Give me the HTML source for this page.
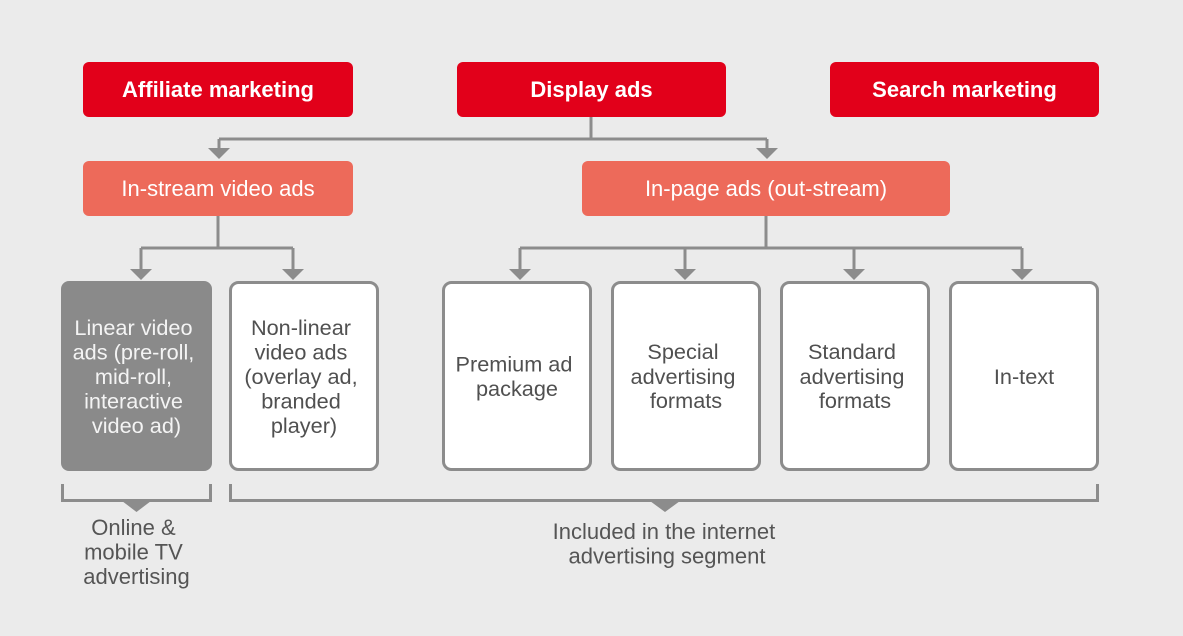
<!DOCTYPE html>
<html>
<head>
<meta charset="utf-8">
<style>
html,body{margin:0;padding:0;background:#ebebeb;}
svg{display:block;}
text{font-family:"Liberation Sans",Arial,sans-serif;}
</style>
</head>
<body>
<svg width="1183" height="636" viewBox="0 0 1183 636" xmlns="http://www.w3.org/2000/svg">
<rect x="0" y="0" width="1183" height="636" fill="#ebebeb"/>

<!-- connectors -->
<g stroke="#8c8c8c" stroke-width="3" fill="none">
  <path d="M591 117 V139 M219 139 H767 M219 139 V150 M767 139 V150"/>
  <path d="M218 216 V248 M141 248 H293 M141 248 V270 M293 248 V270"/>
  <path d="M766 216 V248 M520 248 H1022 M520 248 V270 M685 248 V270 M854 248 V270 M1022 248 V270"/>
  <path d="M62.5 484 V500.5 H210.5 V484"/>
  <path d="M230.5 484 V500.5 H1097.5 V484"/>
</g>
<g fill="#8c8c8c">
  <polygon points="208,148 230,148 219,159"/>
  <polygon points="756,148 778,148 767,159"/>
  <polygon points="130,269 152,269 141,280"/>
  <polygon points="282,269 304,269 293,280"/>
  <polygon points="509,269 531,269 520,280"/>
  <polygon points="674,269 696,269 685,280"/>
  <polygon points="843,269 865,269 854,280"/>
  <polygon points="1011,269 1033,269 1022,280"/>
  <polygon points="122,501 151,501 136.5,512"/>
  <polygon points="650,501 680,501 665,512"/>
</g>

<!-- top red boxes -->
<rect x="83" y="62" width="270" height="55" rx="6" fill="#e2001a"/>
<rect x="457" y="62" width="269" height="55" rx="6" fill="#e2001a"/>
<rect x="830" y="62" width="269" height="55" rx="6" fill="#e2001a"/>
<g fill="#ffffff" font-weight="bold" font-size="22" text-anchor="middle">
  <text x="218" y="97">Affiliate marketing</text>
  <text x="591.5" y="97">Display ads</text>
  <text x="964.5" y="97">Search marketing</text>
</g>

<!-- salmon boxes -->
<rect x="83" y="161" width="270" height="55" rx="6" fill="#ed6a5a"/>
<rect x="582" y="161" width="368" height="55" rx="6" fill="#ed6a5a"/>
<g fill="#ffffff" font-size="22" text-anchor="middle">
  <text x="218" y="196">In-stream video ads</text>
  <text x="766" y="196">In-page ads (out-stream)</text>
</g>

<!-- leaf boxes -->
<rect x="61" y="281" width="151" height="190" rx="8" fill="#8a8a8a"/>
<g fill="#ffffff" stroke="#8c8c8c" stroke-width="3">
  <rect x="230.5" y="282.5" width="147" height="187" rx="8"/>
  <rect x="443.5" y="282.5" width="147" height="187" rx="8"/>
  <rect x="612.5" y="282.5" width="147" height="187" rx="8"/>
  <rect x="781.5" y="282.5" width="147" height="187" rx="8"/>
  <rect x="950.5" y="282.5" width="147" height="187" rx="8"/>
</g>

<g font-size="21.7" text-anchor="middle">
  <text fill="#f4f4f4">
    <tspan x="136.5" y="335">Linear video</tspan>
    <tspan x="136.5" y="359.5">ads (pre-roll,</tspan>
    <tspan x="136.5" y="384">mid-roll,</tspan>
    <tspan x="136.5" y="408.5">interactive</tspan>
    <tspan x="136.5" y="433">video ad)</tspan>
  </text>
  <text fill="#505050">
    <tspan x="304" y="335">Non-linear</tspan>
    <tspan x="304" y="359.5">video ads</tspan>
    <tspan x="304" y="384">(overlay ad,</tspan>
    <tspan x="304" y="408.5">branded</tspan>
    <tspan x="304" y="433">player)</tspan>
  </text>
  <text fill="#505050">
    <tspan x="517" y="371.5">Premium ad</tspan>
    <tspan x="517" y="396">package</tspan>
  </text>
  <text fill="#505050">
    <tspan x="686" y="359">Special</tspan>
    <tspan x="686" y="384">advertising</tspan>
    <tspan x="686" y="408">formats</tspan>
  </text>
  <text fill="#505050">
    <tspan x="855" y="359">Standard</tspan>
    <tspan x="855" y="384">advertising</tspan>
    <tspan x="855" y="408">formats</tspan>
  </text>
  <text fill="#505050">
    <tspan x="1024" y="384">In-text</tspan>
  </text>
</g>
<g font-size="22" text-anchor="middle">
  <text fill="#555555">
    <tspan x="136.5" y="535">Online &amp;</tspan>
    <tspan x="136.5" y="559.5">mobile TV</tspan>
    <tspan x="136.5" y="584">advertising</tspan>
  </text>
  <text fill="#555555">
    <tspan x="667" y="539">Included in the internet</tspan>
    <tspan x="667" y="563.5">advertising segment</tspan>
  </text>
</g>
</svg>
</body>
</html>
